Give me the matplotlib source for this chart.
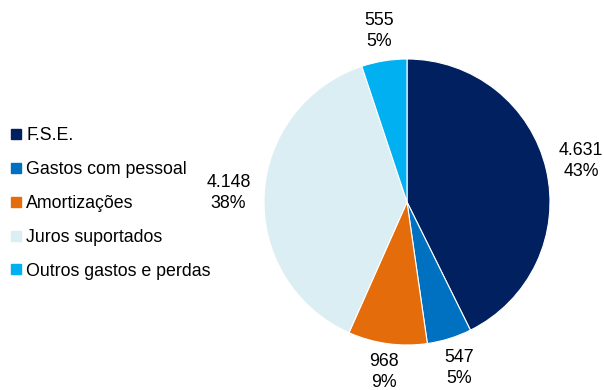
import matplotlib.pyplot as plt
from matplotlib.lines import Line2D

plt.rcParams['font.family'] = ['Liberation Sans', 'DejaVu Sans']

categories = ['F.S.E.', 'Gastos com pessoal', 'Amortizações', 'Juros suportados', 'Outros gastos e perdas']
values = [4631, 547, 968, 4148, 555]
colors = ['#002060', '#0070C0', '#E46C0A', '#DAEEF3', '#00B0F0']

total = sum(values)
labels = [f"{v:,}".replace(',', '.') + "\n" + f"{v / total * 100:.0f}%" for v in values]

fig = plt.figure(figsize=(6.04, 3.90), dpi=100)
# pie centred at (407, 202) px, radius 143 px
ax = fig.add_axes([(407 - 143) / 604, (390 - 202 - 143) / 390, 286 / 604, 286 / 390])

wedges, texts = ax.pie(values, colors=colors, startangle=90, counterclock=False,
                       labels=labels, labeldistance=1.25,
                       wedgeprops=dict(edgecolor='white', linewidth=0.8),
                       textprops=dict(fontsize=12.8, color='#000000', linespacing=1.3))
for t in texts:
    t.set_ha('center')
    t.set_va('center')
# pull some labels in a little so they stay clear of the edges
for i, k in [(1, 0.975), (2, 0.96), (4, 0.97)]:
    x, y = texts[i].get_position()
    texts[i].set_position((x * k, y * k))
ax.set_aspect('equal')
ax.set_xlim(-1, 1)
ax.set_ylim(-1, 1)

handles = [Line2D([], [], marker='s', linestyle='none', markersize=6.5,
                  markerfacecolor=c, markeredgecolor=c) for c in colors]
fig.legend(handles, categories, loc='upper left', bbox_to_anchor=(4 / 604, 1 - 120 / 390),
           frameon=False, fontsize=12.8, handlelength=0.55, handletextpad=0.3,
           labelspacing=0.95, borderaxespad=0)

fig.savefig('out.png', dpi=100)
